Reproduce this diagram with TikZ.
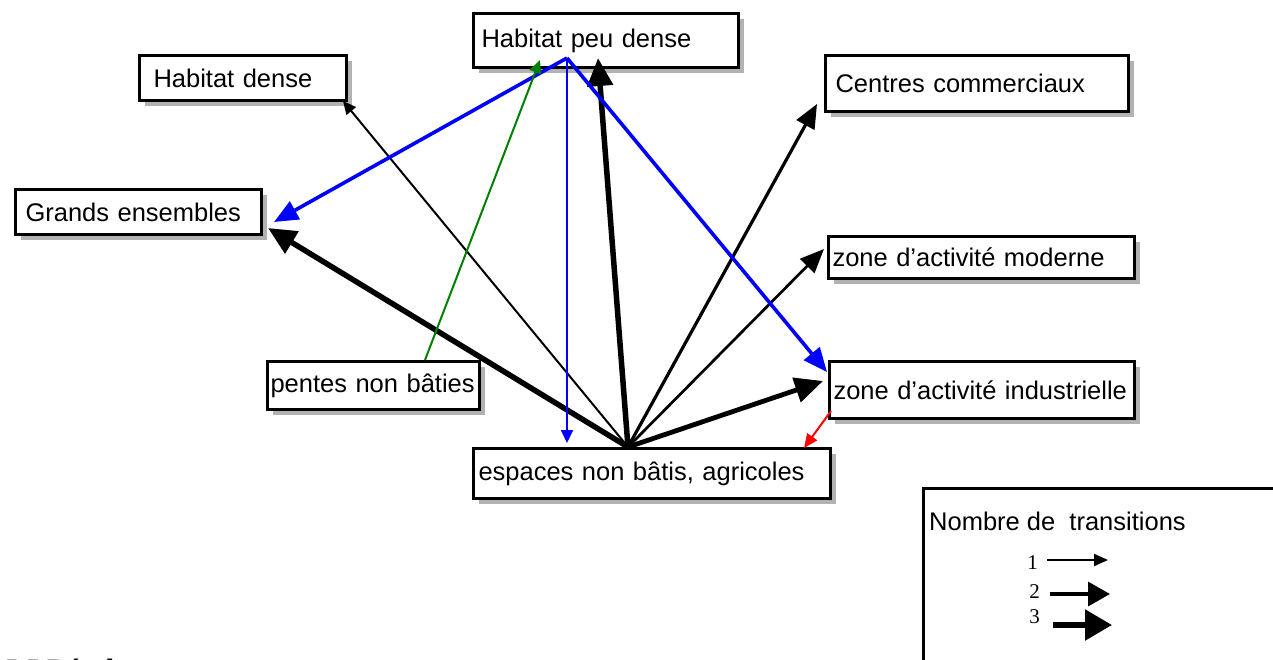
\documentclass[tikz,border=0pt]{standalone}
\usepackage{fontspec}
\setmainfont{Liberation Sans}
\newfontfamily\numfont{Liberation Serif}
\usetikzlibrary{arrows.meta,shadows}

\tikzset{
  catbox/.style={draw=black, line width=3pt, fill=white, rectangle, anchor=north west,
    inner ysep=0pt, align=left, font=\fontsize{25.5}{28}\selectfont,
    general shadow={fill=gray!60, shadow xshift=5pt, shadow yshift=-5pt}},
  one/.style={line width=2pt, -{Triangle[length=13pt,width=12pt]}},
  two/.style={line width=3.2pt, -{Triangle[length=24pt,width=20pt]}},
  three/.style={line width=5.5pt, -{Triangle[length=28pt,width=25pt]}},
  greenlink/.style={draw={rgb,255:red,0;green,128;blue,0}},
  bluelink/.style={draw={rgb,255:red,0;green,0;blue,255}, fill={rgb,255:red,0;green,0;blue,255}},
}

\begin{document}
\begin{tikzpicture}[x=1pt,y=-1pt]
\useasboundingbox (0,0) rectangle (1273,659);
\clip (0,0) rectangle (1273,659);
\fill[white] (0,0) rectangle (1273,659);

% category boxes (text width = box width - 2 * inner xsep)
\node[catbox, inner xsep=8pt, text width=249pt, minimum height=54pt] (pd) at (472,12) {Habitat peu dense};
\node[catbox, inner xsep=14pt, text width=179pt, minimum height=45pt, text depth=-6pt] (hd) at (138,54) {Habitat dense};
\node[catbox, inner xsep=10pt, text width=226pt, minimum height=45pt] (ge) at (14,188) {Grands ensembles};
\node[catbox, inner xsep=10pt, text width=283pt, minimum height=56pt] (cc) at (824,54) {Centres commerciaux};
\node[catbox, inner xsep=4pt, text width=298pt, minimum height=42pt] (zm) at (827,235) {zone d'activité moderne};
\node[catbox, inner xsep=4pt, text width=297pt, minimum height=57pt] (zi) at (828,360) {zone d'activité industrielle};
\node[catbox, inner xsep=3pt, text width=206pt, minimum height=48pt] (pn) at (266,360) {pentes non bâties};
\node[catbox, inner xsep=5pt, text width=347pt, minimum height=50pt] (en) at (472,447) {espaces non bâtis, agricoles};

% connector end points
\coordinate (hub) at (628,447);
\coordinate (pdfoot) at (567,58);
\coordinate (pdtip) at (598,58);
\coordinate (pdgreen) at (540,60);
\coordinate (hdtip) at (343,101);
\coordinate (getipk) at (268,228);
\coordinate (getipb) at (274,222);
\coordinate (cctip) at (817,104);
\coordinate (zmtip) at (824,249);
\coordinate (zitipk) at (823,381);
\coordinate (zitipb) at (827,372);
\coordinate (entip) at (567,443);
\coordinate (pntop) at (425,360);
\coordinate (zifoot) at (831,411);
\coordinate (enred) at (804,448);

% transitions out of the agricultural land
\draw[one] (hub) -- (hdtip);
\draw[three] (hub) -- (getipk);
\draw[three] (hub) -- (pdtip);
\draw[two] (hub) -- (cctip);
\draw[two, line width=2.7pt] (hub) -- (zmtip);
\draw[three, line width=4.8pt] (hub) -- (zitipk);

% transitions out of low density housing
\draw[two, line width=3.6pt, bluelink] (pdfoot) -- (getipb);
\draw[two, line width=3.6pt, bluelink] (pdfoot) -- (zitipb);
\draw[one, bluelink] (pdfoot) -- (entip);

% other transitions
\draw[one, greenlink, fill={rgb,255:red,0;green,128;blue,0}] (pntop) -- (pdgreen);
\draw[one, red, fill=red, -{Triangle[length=14pt,width=12pt]}] (zifoot) -- (enred);

% legend
\draw[line width=3pt] (1290,488) -- (923,488) -- (923,680);
\node[anchor=west, font=\fontsize{25.5}{28}\selectfont, inner sep=0pt] (lgt) at (929,521) {Nombre de\ \ transitions};
\node[anchor=east, font=\numfont\fontsize{21}{23}\selectfont, inner sep=0pt] (l1) at (1038,563) {1};
\node[anchor=east, font=\numfont\fontsize{21}{23}\selectfont, inner sep=0pt] (l2) at (1040,592) {2};
\node[anchor=east, font=\numfont\fontsize{21}{23}\selectfont, inner sep=0pt] (l3) at (1040,617) {3};
\coordinate (a1s) at (1047,560);
\coordinate (a1e) at (1108,560);
\coordinate (a2s) at (1050,594);
\coordinate (a2e) at (1110,594);
\coordinate (a3s) at (1053,625);
\coordinate (a3e) at (1112,625);
\draw[line width=1.8pt, -{Triangle[length=14pt,width=12pt]}] (a1s) -- (a1e);
\draw[line width=3.4pt, -{Triangle[length=22pt,width=24pt]}] (a2s) -- (a2e);
\draw[line width=5.5pt, -{Triangle[length=27pt,width=30pt]}] (a3s) -- (a3e);

% section heading running off the bottom edge
\node[anchor=base west, font=\numfont\bfseries\fontsize{28}{30}\selectfont, inner sep=0pt] (sec) at (5,678) {5.5 Résultats};
\end{tikzpicture}
\end{document}
